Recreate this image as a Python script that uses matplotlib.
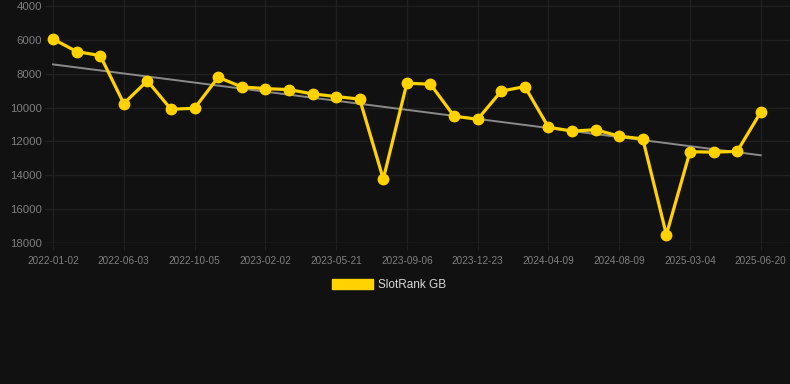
import numpy as np
import matplotlib
matplotlib.use("Agg")
import matplotlib.pyplot as plt
from matplotlib.patches import Patch

# rank values (y axis is inverted)
dates = ["2022-01-02", "", "", "2022-06-03", "", "", "2022-10-05", "", "",
         "2023-02-02", "", "", "2023-05-21", "", "", "2023-09-06", "", "",
         "2023-12-23", "", "", "2024-04-09", "", "", "2024-08-09", "", "",
         "2025-03-04", "", "", "2025-06-20"]
ranks = [5950, 6690, 6930, 9760, 8420, 10100, 10040, 8210, 8780, 8880,
         8940, 9190, 9350, 9500, 14220, 8560, 8620, 10510, 10690, 9030,
         8760, 11160, 11390, 11310, 11690, 11850, 17510, 12610, 12630, 12590,
         10270]
tick_idx = [i for i, d in enumerate(dates) if d]
tick_labels = [dates[i] for i in tick_idx]
y_ticks = [4000, 6000, 8000, 10000, 12000, 14000, 16000, 18000]

bg = "#111111"
yellow = "#ffd200"
plt.rcParams['font.family'] = ['Liberation Sans', 'DejaVu Sans']

fig = plt.figure(figsize=(7.9, 3.84), dpi=100, facecolor=bg)
ax = fig.add_axes([45/790, 141/384, 745/790, 243/384])
ax.set_facecolor(bg)

x = np.arange(len(ranks))
# linear trend
k, b = np.polyfit(x, ranks, 1)
ax.plot([x[0], x[-1]], [k*x[0] + b, k*x[-1] + b], color="#8a8a8a", lw=1.4, zorder=2)

ax.plot(x, ranks, color=yellow, lw=2.3, marker="o", markersize=7.5,
        markerfacecolor=yellow, markeredgecolor=yellow, zorder=3)

ax.set_xlim(-0.34, 31.24)
ax.set_ylim(18000, 3646)
ax.set_xticks(tick_idx)
ax.set_xticklabels(tick_labels)
ax.set_yticks(y_ticks)

ax.grid(True, color="#202020", lw=1)
ax.set_axisbelow(True)
for s in ax.spines.values():
    s.set_visible(False)
ax.axhline(18000, color="#2c2c2c", lw=1, zorder=1)
ax.tick_params(axis="x", colors="#808080", labelsize=7.2, length=5, pad=4, color="#202020")
ax.tick_params(axis="y", colors="#808080", labelsize=8.2, length=0, pad=2)

fig.legend(handles=[Patch(facecolor=yellow, edgecolor=yellow, label="SlotRank GB")],
           loc="center", bbox_to_anchor=(0.493, 0.258), frameon=False,
           fontsize=8.5, labelcolor="#d8d8d8", handlelength=3.4, handleheight=0.9,
           handletextpad=0.5)

fig.savefig("out.png", dpi=100, facecolor=bg)
